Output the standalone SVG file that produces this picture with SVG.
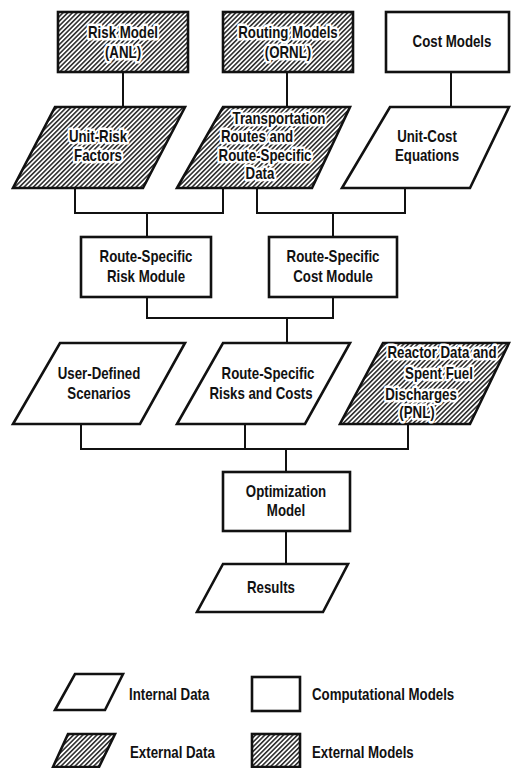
<svg xmlns="http://www.w3.org/2000/svg" width="511" height="768" viewBox="0 0 511 768">
<defs>
<pattern id="hatch" patternUnits="userSpaceOnUse" width="3.3" height="10" patternTransform="rotate(45)">
<rect width="3.3" height="10" fill="#fff"/>
<line x1="0.8" y1="0" x2="0.8" y2="10" stroke="#222" stroke-width="1.5"/>
</pattern>
<style>
.box{fill:#fff;stroke:#111;stroke-width:2.6;stroke-linejoin:miter}
.ext{fill:url(#hatch);stroke:#111;stroke-width:2.6}
.con{fill:none;stroke:#111;stroke-width:2}
text{font-family:"Liberation Sans",Arial,sans-serif;font-weight:bold;font-size:16px;fill:#111;text-anchor:middle}
.halo{fill:#fff;stroke:#fff;stroke-width:5;stroke-linejoin:round}
.lg{text-anchor:start}
</style>
</defs>
<rect width="511" height="768" fill="#fff"/>

<g id="connectors">
<path class="con" d="M123,72V107M287,72V107M451,72V107"/>
<path class="con" d="M75,188V213H223V188M147,213V237"/>
<path class="con" d="M257,188V213H405V188M333,213V237"/>
<path class="con" d="M147,297V318H333V297M287,318V343"/>
<path class="con" d="M81,424V449H408V424M245,424V449M286,449V472"/>
<path class="con" d="M286,531V564"/>
</g>

<g id="risk-model">
<rect class="ext" x="58" y="12" width="130" height="60"/>
<text class="halo" transform="translate(123,38) scale(0.83,1)">Risk Model</text>
<text class="halo" transform="translate(123,58) scale(0.83,1)">(ANL)</text>
<text transform="translate(123,38) scale(0.83,1)">Risk Model</text>
<text transform="translate(123,58) scale(0.83,1)">(ANL)</text>
</g>
<g id="routing-models">
<rect class="ext" x="223" y="12" width="130" height="60"/>
<text class="halo" transform="translate(288,38) scale(0.83,1)">Routing Models</text>
<text class="halo" transform="translate(288,58) scale(0.83,1)">(ORNL)</text>
<text transform="translate(288,38) scale(0.83,1)">Routing Models</text>
<text transform="translate(288,58) scale(0.83,1)">(ORNL)</text>
</g>
<g id="cost-models">
<rect class="box" x="386" y="12" width="123" height="60"/>
<text transform="translate(452,47) scale(0.83,1)">Cost Models</text>
</g>

<g id="unit-risk">
<polygon class="ext" points="55,107 185,107 143,188 13,188"/>
<text class="halo" transform="translate(98,142) scale(0.83,1)">Unit-Risk</text>
<text class="halo" transform="translate(98,161) scale(0.83,1)">Factors</text>
<text transform="translate(98,142) scale(0.83,1)">Unit-Risk</text>
<text transform="translate(98,161) scale(0.83,1)">Factors</text>
</g>
<g id="transport-routes">
<polygon class="ext" points="223,107 350,107 312,188 177,188"/>
<text class="halo" transform="translate(279,124) scale(0.83,1)">Transportation</text>
<text class="halo" transform="translate(257,142) scale(0.83,1)">Routes and</text>
<text class="halo" transform="translate(265,161) scale(0.83,1)">Route-Specific</text>
<text class="halo" transform="translate(260,179) scale(0.83,1)">Data</text>
<text transform="translate(279,124) scale(0.83,1)">Transportation</text>
<text transform="translate(257,142) scale(0.83,1)">Routes and</text>
<text transform="translate(265,161) scale(0.83,1)">Route-Specific</text>
<text transform="translate(260,179) scale(0.83,1)">Data</text>
</g>
<g id="unit-cost">
<polygon class="box" points="390,107 509,107 470,188 342,188"/>
<text transform="translate(427,142) scale(0.83,1)">Unit-Cost</text>
<text transform="translate(427,161) scale(0.83,1)">Equations</text>
</g>

<g id="risk-module">
<rect class="box" x="81" y="237" width="130" height="60"/>
<text transform="translate(146,262) scale(0.83,1)">Route-Specific</text>
<text transform="translate(146,282) scale(0.83,1)">Risk Module</text>
</g>
<g id="cost-module">
<rect class="box" x="269" y="237" width="128" height="60"/>
<text transform="translate(333,262) scale(0.83,1)">Route-Specific</text>
<text transform="translate(333,282) scale(0.83,1)">Cost Module</text>
</g>

<g id="user-scenarios">
<polygon class="box" points="60,343 185,343 140,424 13,424"/>
<text transform="translate(99,379) scale(0.83,1)">User-Defined</text>
<text transform="translate(99,399) scale(0.83,1)">Scenarios</text>
</g>
<g id="risks-costs">
<polygon class="box" points="223,343 350,343 305,424 177,424"/>
<text transform="translate(268,379) scale(0.83,1)">Route-Specific</text>
<text transform="translate(261,399) scale(0.83,1)">Risks and Costs</text>
</g>
<g id="reactor-data">
<polygon class="ext" points="383,343 509,343 470,424 340,424"/>
<text class="halo" transform="translate(442,358) scale(0.83,1)">Reactor Data and</text>
<text class="halo" transform="translate(439,379) scale(0.83,1)">Spent Fuel</text>
<text class="halo" transform="translate(421,400) scale(0.83,1)">Discharges</text>
<text class="halo" transform="translate(417,418) scale(0.83,1)">(PNL)</text>
<text transform="translate(442,358) scale(0.83,1)">Reactor Data and</text>
<text transform="translate(439,379) scale(0.83,1)">Spent Fuel</text>
<text transform="translate(421,400) scale(0.83,1)">Discharges</text>
<text transform="translate(417,418) scale(0.83,1)">(PNL)</text>
</g>

<g id="optimization">
<rect class="box" x="223" y="472" width="127" height="59"/>
<text transform="translate(286,497) scale(0.83,1)">Optimization</text>
<text transform="translate(286,516) scale(0.83,1)">Model</text>
</g>
<g id="results">
<polygon class="box" points="223,564 348,564 323,612 197,612"/>
<text transform="translate(271,593) scale(0.83,1)">Results</text>
</g>

<g id="legend">
<polygon class="box" points="75,674 123,674 105,710 55,710"/>
<text class="lg" transform="translate(129,700) scale(0.83,1)">Internal Data</text>
<rect class="box" x="252" y="677" width="48" height="34"/>
<text class="lg" transform="translate(312,700) scale(0.83,1)">Computational Models</text>
<polygon class="ext" points="68,734 115,734 99,767 53,767"/>
<text class="lg" transform="translate(130,758) scale(0.83,1)">External Data</text>
<rect class="ext" x="252" y="734" width="48" height="33"/>
<text class="lg" transform="translate(312,758) scale(0.83,1)">External Models</text>
</g>
</svg>
